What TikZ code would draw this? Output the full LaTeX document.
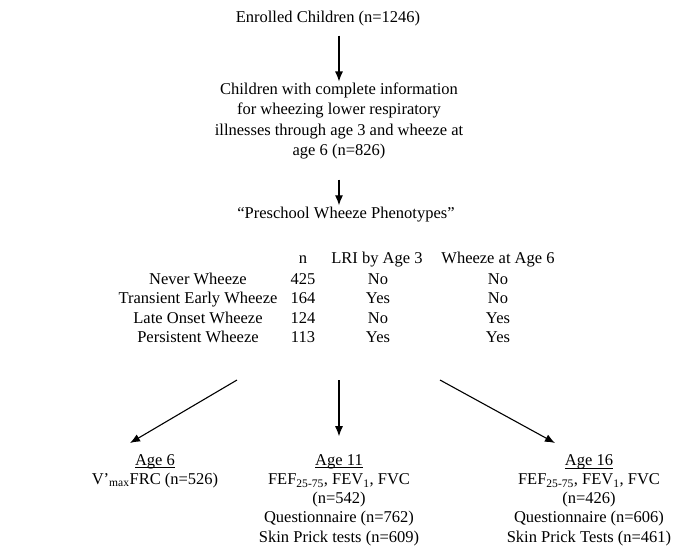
\documentclass[tikz,border=0pt]{standalone}
\usepackage{fontspec}
\setmainfont{Liberation Serif}
\usetikzlibrary{arrows.meta}
\newcommand{\myul}[1]{\setbox0\hbox{#1}\leavevmode\rlap{\raisebox{-3pt}{\rule{\wd0}{0.8pt}}}\box0}
\begin{document}
\begin{tikzpicture}[x=1pt,y=-1pt,
  txt/.style={inner sep=0pt,align=center,font=\fontsize{16.5}{20.5}\selectfont},
  btxt/.style={inner sep=0pt,align=center,font=\fontsize{16.5}{19.2}\selectfont},
  cell/.style={inner sep=0pt,anchor=base,font=\fontsize{16.5}{19.4}\selectfont},
  arr/.style={-{Latex[length=10pt,width=8pt]},line width=1.1pt}]
\useasboundingbox[fill=white] (0,0) rectangle (673,547);

\node[txt] (enrolled) at (328,19) {Enrolled Children (n=1246)};
\node[txt] (blk2) at (339,121) {Children with complete information\\for wheezing lower respiratory\\illnesses through age 3 and wheeze at\\age 6 (n=826)};
\node[txt] (pre) at (346,215) {“Preschool Wheeze Phenotypes”};

% table header
\node[cell] (hn) at (303,263.5) {n};
\node[cell] (hlri) at (377,263.5) {LRI by Age 3};
\node[cell] (hw6) at (498,263.5) {Wheeze at Age 6};
% rows
\node[cell] (r1a) at (198,284.5) {Never Wheeze};
\node[cell] (r1b) at (303,284.5) {425};
\node[cell] (r1c) at (378,284.5) {No};
\node[cell] (r1d) at (498,284.5) {No};
\node[cell] (r2a) at (198,303.9) {Transient Early Wheeze};
\node[cell] (r2b) at (303,303.9) {164};
\node[cell] (r2c) at (378,303.9) {Yes};
\node[cell] (r2d) at (498,303.9) {No};
\node[cell] (r3a) at (198,323.3) {Late Onset Wheeze};
\node[cell] (r3b) at (303,323.3) {124};
\node[cell] (r3c) at (378,323.3) {No};
\node[cell] (r3d) at (498,323.3) {Yes};
\node[cell] (r4a) at (198,342.7) {Persistent Wheeze};
\node[cell] (r4b) at (303,342.7) {113};
\node[cell] (r4c) at (378,342.7) {Yes};
\node[cell] (r4d) at (498,342.7) {Yes};

% bottom blocks
\node[btxt] (age6) at (155,471) {\myul{Age 6}\\V'\textsubscript{max}FRC (n=526)};
\node[btxt] (age11) at (339,500) {\myul{Age 11}\\FEF\textsubscript{25-75}, FEV\textsubscript{1}, FVC\\(n=542)\\Questionnaire (n=762)\\Skin Prick tests (n=609)};
\node[btxt] (age16) at (589,500) {\myul{Age 16}\\FEF\textsubscript{25-75}, FEV\textsubscript{1}, FVC\\(n=426)\\Questionnaire (n=606)\\Skin Prick Tests (n=461)};

% connectors
\draw[arr,shorten <=9pt,shorten >=1pt] (enrolled.south -| blk2.north) -- (blk2.north);
\draw[arr,shorten <=20pt,shorten >=2pt] (blk2.south) -- (blk2.south |- pre.north);

\coordinate (tl) at (237,380);
\coordinate (tm) at (339,380);
\coordinate (tr) at (440,380);
\coordinate (hl) at (130,443);
\coordinate (hr) at (555,443);
\draw[arr] (tl) -- (hl);
\draw[arr,shorten >=18pt] (tm) -- (tm |- age11.north);
\draw[arr] (tr) -- (hr);
\end{tikzpicture}
\end{document}
